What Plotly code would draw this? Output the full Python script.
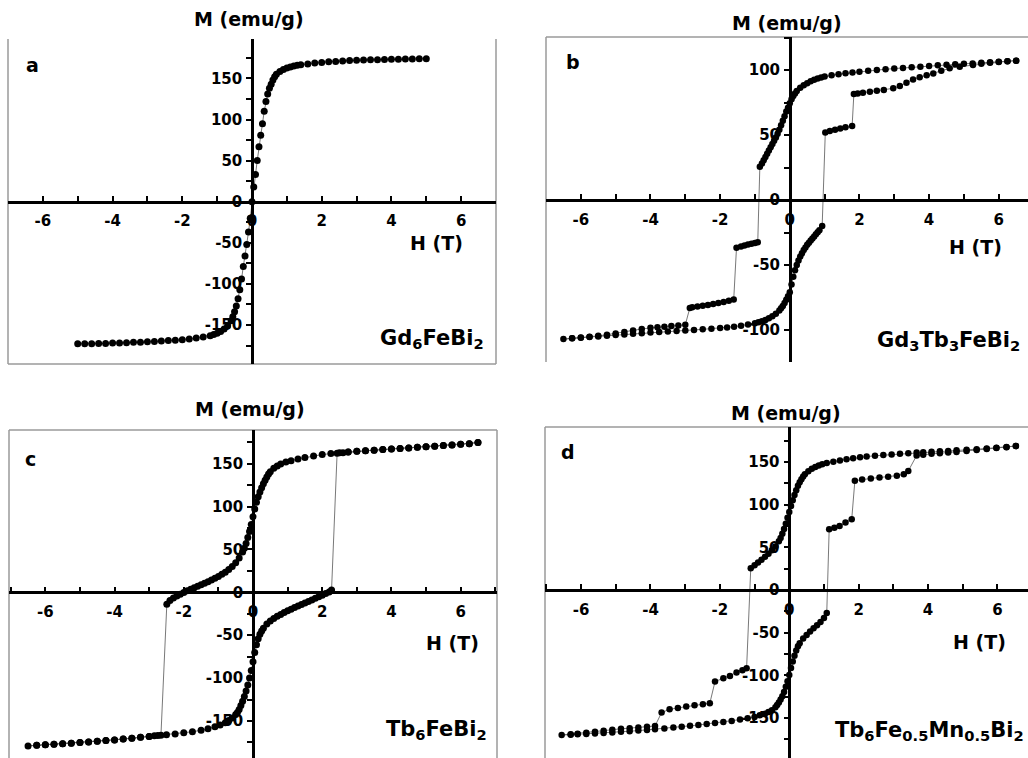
import plotly.graph_objects as go

# ---------------- data (H in T, M in emu/g) ----------------
H_a = [-5.0,-4.8,-4.6,-4.4,-4.2,-4.0,-3.8,-3.6,-3.4,-3.2,-3.0,-2.8,-2.6,-2.4,-2.2,-2.0,-1.8,-1.6,-1.4,-1.2,
       -1.1,-1.0,-0.9,-0.8,-0.7,-0.6,
       -0.55,-0.5,-0.45,-0.4,-0.35,-0.3,-0.25,-0.2,-0.15,-0.1,-0.05,0.0,0.05,0.1,0.15,0.2,0.25,0.3,0.35,0.4,0.45,0.5,0.55,
       0.6,0.65,0.7,
       0.8,0.9,1.0,1.1,1.2,1.3,1.4,
       1.6,1.8,2.0,2.2,2.4,2.6,2.8,3.0,3.2,3.4,3.6,3.8,4.0,4.2,4.4,4.6,4.8,5.0]
M_a = [-173,-173,-173,-172.5,-172.5,-172,-172,-171.5,-171,-171,-170.5,-170,-169.5,-169,-168.5,-168,-167,-166,-164.5,-163,
       -161.5,-160,-158,-155,-151,-145,
       -140,-134,-127,-118,-107,-94,-79,-66,-52,-37,-20,0,18,33,50,67,81,95,110,122,131,138,143,
       148,152,155,
       158.5,161,162.6,164,165,166,166.7,
       167.7,168.7,169.5,170.2,170.7,171.2,171.7,172,172.3,172.6,172.9,173.1,173.3,173.5,173.7,173.8,173.9,174]

H_b_down = [6.5,6.25,6.0,5.75,5.5,5.25,5.0,4.75,4.5,4.25,4.0,3.75,3.5,3.25,3.0,2.75,2.5,2.25,2.0,
            1.8,1.6,1.4,1.2,1.0,
            0.9,0.8,0.7,0.6,0.5,0.4,0.3,0.2,
            0.15,0.1,0.05,0.0,
            -0.05,-0.1,-0.15,-0.2,-0.25,-0.3,-0.35,-0.4,-0.45,-0.5,-0.55,-0.6,-0.65,-0.7,-0.75,-0.8,
            -0.86,
            -0.92,-1.0,-1.1,-1.2,-1.3,-1.4,-1.53,
            -1.61,-1.75,-1.9,-2.05,-2.2,-2.35,-2.5,-2.65,-2.8,-2.87,
            -3.0,-3.2,-3.4,-3.6,-3.8,-4.0,
            -4.25,-4.5,-4.75,-5.0,-5.25,-5.5,-5.75,-6.0,-6.25,-6.5]
M_b_down = [107.2,106.7,106.3,105.9,105.5,105.1,104.8,104.4,104.0,103.6,103.1,102.6,102.1,101.6,101.1,100.6,100.0,99.4,98.7,
            98.1,97.5,96.8,96.0,95.0,
            94.3,93.5,92.5,91.3,89.9,88.2,86.3,83.8,
            82.0,80.0,77.5,74.5,
            71.0,68.0,64.5,61.0,57.5,54.0,51.0,48.0,45.5,43.0,40.5,38.0,35.5,33.0,30.5,28.0,
            25.5,
            -32.5,-33.0,-33.6,-34.3,-35.0,-35.8,-36.7,
            -76.5,-77.5,-78.5,-79.3,-80.0,-80.7,-81.3,-81.9,-82.5,-83.0,
            -96.0,-96.6,-97.0,-97.4,-97.8,-98.3,
            -99.2,-100.3,-101.5,-102.6,-103.6,-104.5,-105.2,-105.8,-106.4,-107.0]
H_b_up = [-6.25,-6.0,-5.75,-5.5,-5.25,-5.0,-4.75,-4.5,-4.25,-4.0,-3.75,-3.5,-3.25,-3.0,-2.75,-2.5,-2.25,-2.0,
          -1.8,-1.6,-1.4,-1.2,-1.0,
          -0.9,-0.8,-0.7,-0.6,-0.5,-0.4,-0.3,
          -0.25,-0.2,-0.15,-0.1,-0.05,0.0,0.05,0.1,0.15,0.2,0.25,0.3,0.35,0.4,0.45,0.5,0.55,0.6,0.65,0.7,0.75,0.8,0.85,
          0.93,
          1.02,1.15,1.3,1.45,1.6,1.79,
          1.84,1.95,2.1,2.3,2.5,2.7,2.97,3.16,3.35,3.54,3.73,3.93,4.12,4.35,4.59,4.88,5.26,5.5,5.75,6.0,6.25,6.5]
M_b_up = [-106.4,-105.9,-105.4,-104.9,-104.4,-103.9,-103.4,-102.9,-102.4,-102.0,-101.5,-101.1,-100.7,-100.3,-99.9,-99.5,-99.0,-98.5,
          -98.0,-97.4,-96.7,-95.8,-94.7,
          -94.0,-93.2,-92.2,-91.0,-89.5,-87.5,-85.0,
          -83.3,-81.5,-79.3,-76.8,-74.0,-71.0,-65.0,-59.0,-54.0,-50.0,-46.5,-43.5,-41.0,-38.5,-36.5,-34.5,-32.8,-31.2,-29.6,-28.0,-26.4,-24.8,-23.2,
          -20.0,
          52.0,53.0,54.0,55.0,56.0,57.0,
          81.5,82.0,82.6,83.3,84.0,84.7,85.9,87.7,90.3,92.8,94.4,96.0,97.4,99.5,101.3,102.6,103.8,104.8,105.6,106.2,106.7,107.2]

H_c_down = [6.5,6.25,6.0,5.75,5.5,5.25,5.0,4.75,4.5,4.25,4.0,3.75,3.5,3.25,3.0,2.75,2.5,2.25,2.0,1.75,1.5,
            1.3,1.1,0.95,0.8,0.7,0.6,0.5,0.45,0.4,0.35,0.3,0.25,0.2,0.15,0.1,0.05,0.0,-0.05,-0.1,-0.15,-0.2,-0.25,-0.3,
            -0.4,-0.5,-0.6,-0.7,-0.8,-0.9,-1.0,-1.1,-1.2,-1.3,-1.4,-1.5,-1.6,-1.7,-1.8,-1.9,-2.0,-2.1,-2.2,-2.3,-2.4,-2.49,
            -2.66,-2.85,-3.0,-3.25,-3.5,-3.75,-4.0,-4.25,-4.5,-4.75,-5.0,-5.25,-5.5,-5.75,-6.0,-6.25,-6.5]
M_c_down = [174.5,173.3,172.5,171.8,171.0,170.3,169.6,169.0,168.3,167.7,167.0,166.4,165.7,165.0,164.3,163.5,162.6,161.7,160.5,159.0,157.2,
            155.5,153.5,151.8,149.5,147.3,144.5,140.5,138.0,134.5,130.5,126.5,122.0,117.0,111.5,105.0,97.0,88.0,79.0,71.0,64.0,57.0,51.5,47.0,
            40.0,34.5,30.0,26.5,23.5,21.0,18.5,16.3,14.3,12.4,10.5,8.7,7.0,5.3,3.5,1.7,-0.3,-2.2,-4.3,-6.7,-9.5,-14.0,
            -166.5,-167.3,-168.0,-169.0,-170.0,-171.0,-172.0,-172.8,-173.6,-174.4,-175.1,-175.8,-176.5,-177.1,-177.7,-178.3,-179.0]
H_c_up = [-6.25,-6.0,-5.75,-5.5,-5.25,-5.0,-4.75,-4.5,-4.25,-4.0,-3.75,-3.5,-3.25,-3.0,-2.75,-2.5,-2.25,-2.0,-1.75,-1.5,
          -1.3,-1.1,-0.95,-0.8,-0.7,-0.6,-0.5,-0.45,-0.4,-0.35,-0.3,-0.25,-0.2,-0.15,-0.1,-0.05,0.0,0.05,0.1,0.15,0.2,0.25,0.3,
          0.4,0.5,0.6,0.7,0.8,0.9,1.0,1.1,1.2,1.3,1.4,1.5,1.6,1.7,1.8,1.9,2.0,2.1,2.2,2.27,
          2.43,2.6,2.75,3.0,3.25,3.5,3.75,4.0,4.25,4.5,4.75,5.0,5.25,5.5,5.75,6.0,6.25,6.5]
M_c_up = [-178.3,-177.7,-177.1,-176.5,-175.8,-175.1,-174.4,-173.6,-172.8,-172.0,-171.0,-170.0,-169.0,-168.0,-167.0,-166.0,-165.0,-163.8,-162.5,-160.8,
          -159.0,-156.8,-154.5,-152.0,-149.5,-146.5,-142.5,-140.0,-136.5,-132.0,-127.0,-121.5,-115.0,-108.0,-100.0,-91.0,-81.0,-70.0,-61.0,-54.0,-49.0,-45.0,-42.0,
          -37.0,-33.5,-30.5,-28.0,-25.7,-23.6,-21.6,-19.7,-17.8,-16.0,-14.2,-12.4,-10.6,-8.8,-7.0,-5.2,-3.4,-1.5,0.5,2.7,
          162.0,162.8,163.5,164.3,165.0,165.7,166.4,167.0,167.7,168.3,169.0,169.6,170.3,171.0,171.8,172.5,173.3,174.5]

H_d_down = [6.53,6.26,5.97,5.69,5.4,5.11,4.82,4.58,4.34,4.1,3.86,3.67,3.43,3.19,2.95,2.71,2.47,2.23,2.04,1.84,1.65,1.46,1.27,1.08,
            0.95,0.85,0.75,0.65,0.55,0.45,0.4,0.35,0.3,0.25,0.2,0.15,0.1,0.05,0.0,-0.05,-0.1,-0.15,-0.2,-0.25,-0.3,
            -0.4,-0.5,-0.6,-0.7,-0.8,-0.9,-1.0,-1.11,
            -1.23,-1.35,-1.52,-1.71,-1.9,-2.14,
            -2.29,-2.49,-2.73,-2.97,-3.21,-3.45,-3.68,
            -3.87,-4.1,-4.35,-4.6,-4.85,-5.1,-5.35,-5.6,-5.85,-6.1,-6.3,-6.56]
M_d_down = [168.7,167.5,166.6,165.8,165.0,164.3,163.6,163.0,162.5,162.0,161.5,161.0,160.3,159.6,158.9,158.1,157.3,156.3,155.4,154.3,153.1,151.8,150.4,148.8,
            147.3,146.0,144.2,142.0,139.2,135.5,133.0,129.8,126.2,122.0,117.0,111.3,105.0,98.5,91.5,84.5,77.5,71.5,66.0,61.0,57.0,
            51.0,46.5,42.5,39.0,35.5,32.3,29.0,25.4,
            -91.8,-94.0,-96.9,-100.8,-103.5,-107.4,
            -132.8,-134.0,-135.2,-136.7,-138.3,-139.9,-143.8,
            -159.5,-160.5,-161.3,-162.0,-162.8,-163.8,-165.0,-166.3,-167.5,-168.5,-169.2,-170.0]
H_d_up = [-6.3,-6.1,-5.85,-5.6,-5.35,-5.1,-4.85,-4.6,-4.35,-4.1,-3.87,-3.6,-3.34,-3.1,-2.86,-2.62,-2.38,-2.14,-1.9,-1.66,-1.42,-1.2,-1.0,
          -0.85,-0.7,-0.6,-0.5,-0.4,-0.35,-0.3,-0.25,-0.2,-0.15,-0.1,-0.05,0.0,0.05,0.1,0.15,0.2,0.25,0.3,
          0.4,0.5,0.6,0.7,0.8,0.9,1.0,1.08,
          1.15,1.3,1.45,1.62,1.8,
          1.89,2.1,2.35,2.6,2.85,3.1,3.3,3.43,
          3.67,3.86,4.1,4.34,4.58,4.82,5.11,5.4,5.69,5.97,6.26,6.53]
M_d_up = [-169.7,-169.3,-168.8,-168.2,-167.6,-167.0,-166.3,-165.6,-164.9,-164.1,-163.3,-162.4,-161.3,-160.3,-159.3,-158.3,-157.2,-156.0,-154.8,-153.5,-152.0,-150.5,-148.8,
          -147.0,-145.0,-143.2,-141.0,-137.5,-135.0,-132.0,-128.5,-124.5,-119.5,-113.5,-107.0,-99.6,-91.5,-84.0,-77.0,-71.0,-66.0,-62.5,
          -57.0,-52.7,-48.7,-45.0,-41.3,-37.5,-33.0,-27.0,
          71.0,73.0,75.0,79.0,82.8,
          128.0,129.5,130.7,131.8,132.8,134.0,135.5,139.5,
          157.5,158.6,159.5,160.3,161.0,161.8,162.8,164.0,165.2,166.3,167.3,168.7]

# tick labels
x_ticks = [-6, -4, -2, 0, 2, 4, 6]
y_ticks_a = [-150, -100, -50, 0, 50, 100, 150]
y_ticks_b = [-100, -50, 0, 50, 100]
y_ticks_c = [-150, -100, -50, 0, 50, 100, 150]
y_ticks_d = [-150, -100, -50, 0, 50, 100, 150]
x_minor = [-7, -6, -5, -4, -3, -2, -1, 0, 1, 2, 3, 4, 5, 6, 7]
y_minor = [-175, -150, -125, -100, -75, -50, -25, 0, 25, 50, 75, 100, 125, 150, 175]

labels = ["a", "b", "c", "d"]
compounds = ["Gd<sub>6</sub>FeBi<sub>2</sub>",
             "Gd<sub>3</sub>Tb<sub>3</sub>FeBi<sub>2</sub>",
             "Tb<sub>6</sub>FeBi<sub>2</sub>",
             "Tb<sub>6</sub>Fe<sub>0.5</sub>Mn<sub>0.5</sub>Bi<sub>2</sub>"]
x_title = "H (T)"
y_title = "M (emu/g)"

series = [(H_a, M_a),
          (H_b_down + H_b_up, M_b_down + M_b_up),
          (H_c_down + H_c_up, M_c_down + M_c_up),
          (H_d_down + H_d_up, M_d_down + M_d_up)]
y_ticks = [y_ticks_a, y_ticks_b, y_ticks_c, y_ticks_d]
for h, m in series:
    assert len(h) == len(m), (len(h), len(m))

# ---------------- layout (pixel geometry) ----------------
W, HGT = 1028, 758
FONT = "DejaVu Sans, Arial, sans-serif"

def fx(p):
    return p / W

def fy(p):
    return 1 - p / HGT

panels = [
    dict(box=(8, 496, 39, 364), xr=(-7.0, 7.0), yr=(-197.5, 198.0), msize=7,
         letter=(24, 65), mt=(249, 19), ht=(436, 243), comp=(486, 354),
         frame=[((8, 39), (8, 364)), ((8, 364), (496, 364)), ((496, 39), (496, 364))]),
    dict(box=(546, 1028, 37, 362), xr=(-7.0, 6.84), yr=(-124.6, 125.4), msize=6.5,
         letter=(564, 62), mt=(787, 23), ht=(975, 247), comp=(1022, 356),
         frame=[((546, 37), (1028, 37)), ((546, 37), (546, 362))]),
    dict(box=(9, 497, 430, 758), xr=(-7.05, 7.05), yr=(-193.1, 189.2), msize=7,
         letter=(23, 459), mt=(250, 409), ht=(452, 643), comp=(489, 745),
         frame=[((9, 430), (497, 430)), ((9, 430), (9, 758)), ((497, 430), (497, 758))]),
    dict(box=(545, 1028, 427, 758), xr=(-7.04, 6.88), yr=(-197.0, 191.0), msize=6.5,
         letter=(559, 452), mt=(786, 413), ht=(979, 642), comp=(1026, 746),
         frame=[((545, 427), (1028, 427)), ((545, 427), (545, 758))]),
]

fig = go.Figure()
annotations = []
shapes = []
layout_axes = {}

def bold(v):
    return "<b>%s</b>" % v

for i, (p, (hx, my)) in enumerate(zip(panels, series)):
    n = "" if i == 0 else str(i + 1)
    L, R, T, B = p["box"]
    x0, x1 = p["xr"]
    y0, y1 = p["yr"]
    zero_x_px = L + (0 - x0) / (x1 - x0) * (R - L)
    zero_y_px = T + (y1 - 0) / (y1 - y0) * (B - T)

    fig.add_trace(go.Scatter(
        x=hx, y=my, mode="lines+markers", xaxis="x" + n, yaxis="y" + n,
        marker=dict(size=p["msize"], color="black", line=dict(width=0)),
        line=dict(color="#555555", width=0.8), showlegend=False, cliponaxis=False,
        hoverinfo="x+y"))

    tickfont = dict(family=FONT, size=15, color="black", weight="bold")
    layout_axes["xaxis" + n] = dict(
        domain=[fx(L), fx(R)], range=[x0, x1], anchor="free", position=fy(zero_y_px),
        showline=True, linecolor="black", linewidth=2.5, showgrid=False, zeroline=False,
        ticks="inside", ticklen=5, tickwidth=1.5, tickcolor="black",
        tickmode="array", tickvals=x_ticks, ticktext=[bold(v) for v in x_ticks],
        tickfont=tickfont, ticklabelstandoff=5,
        minor=dict(tickmode="array", tickvals=x_minor, ticks="inside", ticklen=5, tickwidth=1.5,
                   tickcolor="black", showgrid=False),
        fixedrange=True)
    layout_axes["yaxis" + n] = dict(
        domain=[fy(B), fy(T)], range=[y0, y1], anchor="free", position=fx(zero_x_px),
        showline=True, linecolor="black", linewidth=2.5, showgrid=False, zeroline=False,
        ticks="outside", ticklen=5, tickwidth=1.5, tickcolor="black",
        tickmode="array", tickvals=y_ticks[i], ticktext=[bold(v) for v in y_ticks[i]],
        tickfont=tickfont, ticklabelstandoff=1,
        minor=dict(tickmode="array", tickvals=y_minor, ticks="outside", ticklen=5, tickwidth=1.5,
                   tickcolor="black", showgrid=False),
        fixedrange=True)

    annotations.append(dict(text=bold(labels[i]), x=fx(p["letter"][0]), y=fy(p["letter"][1]),
                            xref="paper", yref="paper", xanchor="left", yanchor="middle", showarrow=False,
                            font=dict(family=FONT, size=19, color="black")))
    annotations.append(dict(text=bold(y_title), x=fx(p["mt"][0]), y=fy(p["mt"][1]),
                            xref="paper", yref="paper", xanchor="center", yanchor="middle", showarrow=False,
                            font=dict(family=FONT, size=19, color="black")))
    annotations.append(dict(text=bold(x_title), x=fx(p["ht"][0]), y=fy(p["ht"][1]),
                            xref="paper", yref="paper", xanchor="center", yanchor="middle", showarrow=False,
                            font=dict(family=FONT, size=19, color="black")))
    annotations.append(dict(text=bold(compounds[i]), x=fx(p["comp"][0]), y=fy(p["comp"][1]),
                            xref="paper", yref="paper", xanchor="right", yanchor="bottom", showarrow=False,
                            font=dict(family=FONT, size=21, color="black")))
    for (a, b) in p["frame"]:
        shapes.append(dict(type="line", xref="paper", yref="paper",
                           x0=fx(a[0]), y0=fy(a[1]), x1=fx(b[0]), y1=fy(b[1]),
                           line=dict(color="#9a9a9a", width=1.5), layer="below"))

fig.update_layout(
    width=W, height=HGT, autosize=False,
    margin=dict(l=0, r=0, t=0, b=0, pad=0),
    paper_bgcolor="white", plot_bgcolor="white",
    font=dict(family=FONT, color="black"),
    annotations=annotations, shapes=shapes, showlegend=False,
    **layout_axes)

fig.write_html("out.html", config={"displayModeBar": False},
               post_script="document.body.style.margin='0';document.body.style.overflow='hidden';")
